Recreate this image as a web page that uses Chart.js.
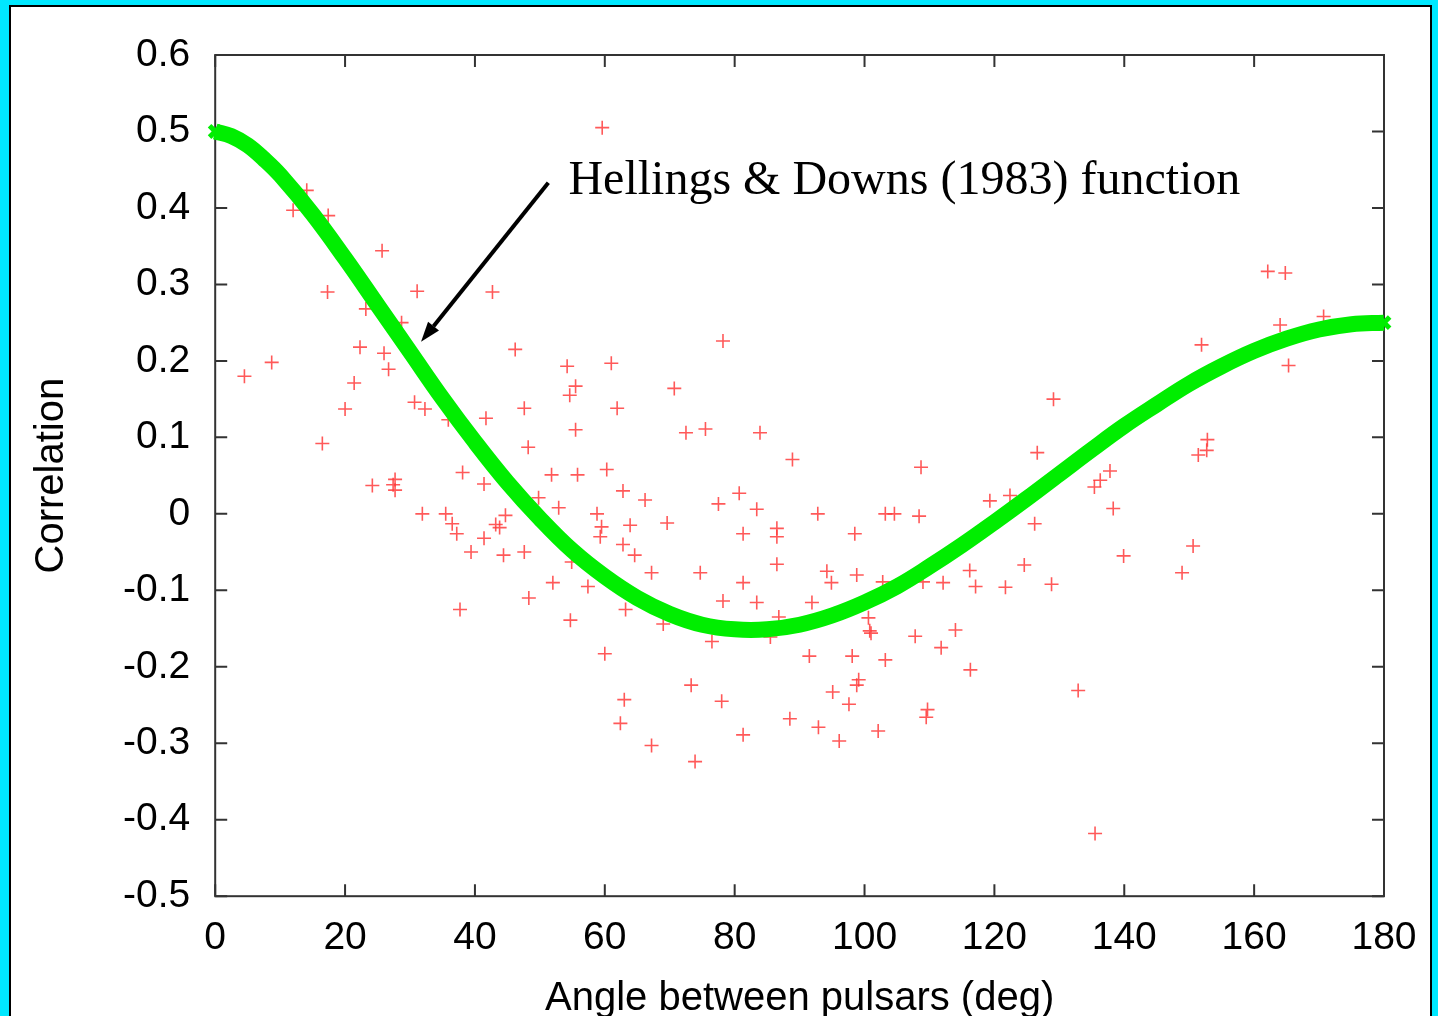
<!DOCTYPE html>
<html>
<head>
<meta charset="utf-8">
<title>Hellings & Downs correlation</title>
<script src="https://cdn.jsdelivr.net/npm/chart.js@4.4.1/dist/chart.umd.min.js"></script>
<style>
  html, body { margin: 0; padding: 0; }
  body { width: 1438px; height: 1016px; background: #00e8ff; position: relative; overflow: hidden; }
  .panel { position: absolute; left: 9px; top: 5px; width: 1423px; height: 1040px; background: #fff; border: 2px solid #000; box-sizing: border-box; }
  .wrap { position: absolute; left: 0; top: 0; width: 1438px; height: 1016px; }
</style>
</head>
<body>
<div class="panel"></div>
<div class="wrap"><canvas id="hdChart" width="1438" height="1016"></canvas></div>
<script>
// Hellings & Downs curve
const hdAngles = [0, 2.5, 5, 7.5, 10, 15, 20, 25, 30, 35, 40, 45, 50, 55, 60, 65, 70, 75, 80, 85, 90,
  95, 100, 105, 110, 115, 120, 125, 130, 135, 140, 145, 150, 155, 160, 165, 170, 175, 180];
const hdCorr = [0.500, 0.494, 0.482, 0.464, 0.443, 0.392, 0.334, 0.273, 0.212, 0.151, 0.094, 0.041, -0.006, -0.048, -0.082, -0.110, -0.131, -0.145, -0.151, -0.151, -0.145,
  -0.133, -0.116, -0.095, -0.069, -0.041, -0.011, 0.020, 0.052, 0.084, 0.115, 0.143, 0.170, 0.193, 0.213, 0.229, 0.241, 0.248, 0.250];

// measured pulsar pairs: angle (deg) and correlation
const pairAngles = [
  4.5, 8.7, 12.0, 14.1, 16.5, 17.3, 17.4, 20.0, 21.4, 22.3,
  23.2, 24.2, 25.7, 26.0, 26.7, 27.4, 27.7, 27.7, 28.7, 30.7,
  31.1, 31.9, 32.3, 35.5, 35.9, 36.5, 37.2, 37.7, 38.1, 39.4,
  41.4, 41.4, 41.7, 42.7, 43.2, 43.8, 44.4, 44.7, 46.2, 47.6,
  47.6, 48.2, 48.3, 49.8, 51.8, 52.0, 52.9, 54.2, 54.6, 54.7,
  54.9, 55.5, 55.5, 55.8, 57.4, 58.8, 59.3, 59.5, 59.6, 60.0,
  60.3, 61.0, 61.9, 62.4, 62.8, 62.8, 63.0, 63.2, 63.9, 64.6,
  66.2, 67.2, 67.2, 69.0, 69.6, 70.7, 72.5, 73.3, 73.9, 74.7,
  75.5, 76.5, 77.5, 78.0, 78.2, 78.2, 80.7, 81.3, 81.3, 81.3,
  83.4, 83.4, 83.9, 85.5, 86.5, 86.5, 86.5, 86.8, 88.5, 88.9,
  91.5, 91.9, 92.8, 92.9, 94.2, 94.9, 95.1, 96.1, 97.6, 98.1,
  98.5, 98.8, 98.8, 99.1, 100.6, 100.8, 101.0, 102.1, 102.8, 103.2,
  103.2, 104.6, 107.8, 108.4, 108.7, 109.0, 109.5, 109.7, 111.8, 112.1,
  114.0, 116.2, 116.3, 117.1, 119.3, 121.7, 122.4, 124.6, 126.2, 126.6,
  128.8, 129.1, 132.9, 135.4, 135.5, 136.3, 137.8, 138.3, 139.9, 148.9,
  150.6, 151.4, 151.9, 152.7, 152.8, 162.1, 164.0, 164.8, 165.3, 170.7
];
const pairCorr = [
  0.180, 0.198, 0.397, 0.423, 0.092, 0.290, 0.390, 0.137, 0.171, 0.218,
  0.268, 0.037, 0.344, 0.210, 0.189, 0.038, 0.045, 0.031, 0.250, 0.146,
  0.291, 0.000, 0.137, 0.000, 0.123, -0.013, -0.026, -0.125, 0.054, -0.050,
  0.039, -0.032, 0.125, 0.290, -0.014, -0.018, -0.054, -0.002, 0.215, 0.138,
  -0.050, 0.087, -0.110, 0.021, 0.051, -0.090, 0.008, 0.193, 0.155, -0.139,
  -0.063, 0.167, 0.110, 0.051, -0.095, 0.000, -0.030, -0.017, 0.505, -0.183,
  0.058, 0.197, 0.138, -0.274, 0.030, -0.040, -0.243, -0.125, -0.015, -0.054,
  0.018, -0.077, -0.303, -0.144, -0.012, 0.164, 0.106, -0.224, -0.324, -0.077,
  0.111, -0.167, 0.013, -0.245, 0.226, -0.114, 0.027, -0.026, -0.090, -0.289,
  0.006, -0.116, 0.106, -0.161, -0.019, -0.030, -0.066, -0.135, -0.268, 0.071,
  -0.186, -0.116, 0.000, -0.279, -0.075, -0.090, -0.233, -0.297, -0.249, -0.186,
  -0.026, -0.080, -0.224, -0.217, -0.136, -0.153, -0.156, -0.284, -0.089, 0.000,
  -0.191, 0.000, -0.160, -0.003, 0.061, -0.089, -0.266, -0.256, -0.175, -0.090,
  -0.152, -0.074, -0.204, -0.095, 0.017, -0.096, 0.024, -0.067, -0.013, 0.080,
  -0.092, 0.150, -0.231, 0.035, -0.418, 0.044, 0.056, 0.007, -0.055, -0.077,
  -0.042, 0.077, 0.221, 0.083, 0.097, 0.317, 0.247, 0.315, 0.194, 0.258
];

const xTitle = 'Angle between pulsars (deg)';
const yTitle = 'Correlation';
const noteText = 'Hellings & Downs (1983) function';

// annotation anchors, in data units
const notePos = { x: 54.4, y: 0.418 };
const arrowTail = { x: 51.3, y: 0.433 };
const arrowHead = { x: 31.7, y: 0.225 };

const sansFont = '"Liberation Sans", Arial, Helvetica, sans-serif';

// gnuplot style box with inward ticks on all four sides
const framePlugin = {
  id: 'frame',
  beforeDatasetsDraw(chart) {
    const { ctx, chartArea: a, scales: { x, y } } = chart;
    const tick = 12;
    ctx.save();
    ctx.strokeStyle = '#333';
    ctx.lineWidth = 2;
    ctx.beginPath();
    x.ticks.forEach(t => {
      const px = x.getPixelForValue(t.value);
      ctx.moveTo(px, a.bottom); ctx.lineTo(px, a.bottom - tick);
      ctx.moveTo(px, a.top); ctx.lineTo(px, a.top + tick);
    });
    y.ticks.forEach(t => {
      const py = y.getPixelForValue(t.value);
      ctx.moveTo(a.left, py); ctx.lineTo(a.left + tick, py);
      ctx.moveTo(a.right, py); ctx.lineTo(a.right - tick, py);
    });
    ctx.stroke();
    ctx.strokeRect(a.left, a.top, a.right - a.left, a.bottom - a.top);
    ctx.restore();
  }
};

const notePlugin = {
  id: 'note',
  afterDatasetsDraw(chart) {
    const { ctx, scales: { x, y } } = chart;
    ctx.save();
    ctx.fillStyle = '#000';
    ctx.font = '48px "Liberation Serif", "Times New Roman", serif';
    ctx.textBaseline = 'alphabetic';
    ctx.fillText(noteText, x.getPixelForValue(notePos.x), y.getPixelForValue(notePos.y));

    const x0 = x.getPixelForValue(arrowTail.x), y0 = y.getPixelForValue(arrowTail.y);
    const x1 = x.getPixelForValue(arrowHead.x), y1 = y.getPixelForValue(arrowHead.y);
    const ang = Math.atan2(y1 - y0, x1 - x0);
    const len = 20, half = 7;
    const bx = x1 - len * Math.cos(ang), by = y1 - len * Math.sin(ang);
    ctx.strokeStyle = '#000';
    ctx.lineWidth = 4;
    ctx.beginPath();
    ctx.moveTo(x0, y0);
    ctx.lineTo(bx, by);
    ctx.stroke();
    ctx.beginPath();
    ctx.moveTo(x1, y1);
    ctx.lineTo(bx + half * Math.sin(ang), by - half * Math.cos(ang));
    ctx.lineTo(bx - half * Math.sin(ang), by + half * Math.cos(ang));
    ctx.closePath();
    ctx.fill();
    ctx.restore();
  }
};

const lastHd = hdAngles.length - 1;

new Chart(document.getElementById('hdChart'), {
  type: 'scatter',
  data: {
    datasets: [
      {
        label: 'Hellings & Downs',
        type: 'line',
        data: hdAngles.map((a, i) => ({ x: a, y: hdCorr[i] })),
        borderColor: '#00ee00',
        backgroundColor: '#00ee00',
        borderWidth: 16,
        tension: 0.4,
        // gnuplot draws the curve as dense x marks; show the ones at the ends
        pointStyle: 'crossRot',
        pointRadius: c => (c.dataIndex === 0 || c.dataIndex === lastHd ? 8 : 0),
        pointBorderWidth: 5,
        pointBorderColor: '#00ee00',
        fill: false,
        clip: false,
        order: 0
      },
      {
        label: 'Pulsar pairs',
        data: pairAngles.map((a, i) => ({ x: a, y: pairCorr[i] })),
        pointStyle: 'cross',
        pointRadius: 7,
        borderWidth: 1.6,
        borderColor: 'rgba(255, 60, 60, 0.85)',
        backgroundColor: 'rgba(255, 60, 60, 0.85)',
        clip: false,
        order: 1
      }
    ]
  },
  options: {
    responsive: false,
    animation: false,
    events: [],
    layout: {
      padding: { left: 20, top: 55, right: 54, bottom: 0 }
    },
    plugins: {
      legend: { display: false },
      tooltip: { enabled: false }
    },
    scales: {
      x: {
        type: 'linear',
        min: 0,
        max: 180,
        grid: { display: false, drawTicks: false },
        border: { display: false },
        ticks: {
          stepSize: 20,
          autoSkip: false,
          maxRotation: 0,
          padding: 19,
          color: '#000',
          font: { family: sansFont, size: 39 }
        },
        title: {
          display: true,
          text: xTitle,
          color: '#000',
          font: { family: sansFont, size: 40 },
          padding: { top: -6, bottom: -7 }
        }
      },
      y: {
        type: 'linear',
        min: -0.5,
        max: 0.6,
        grid: { display: false, drawTicks: false },
        border: { display: false },
        ticks: {
          stepSize: 0.1,
          padding: 25,
          color: '#000',
          font: { family: sansFont, size: 39 },
          callback: v => String(Math.round(v * 10) / 10)
        },
        title: {
          display: true,
          text: yTitle,
          color: '#000',
          font: { family: sansFont, size: 40 },
          padding: { top: 8, bottom: 22 }
        }
      }
    }
  },
  plugins: [framePlugin, notePlugin]
});
</script>
</body>
</html>
